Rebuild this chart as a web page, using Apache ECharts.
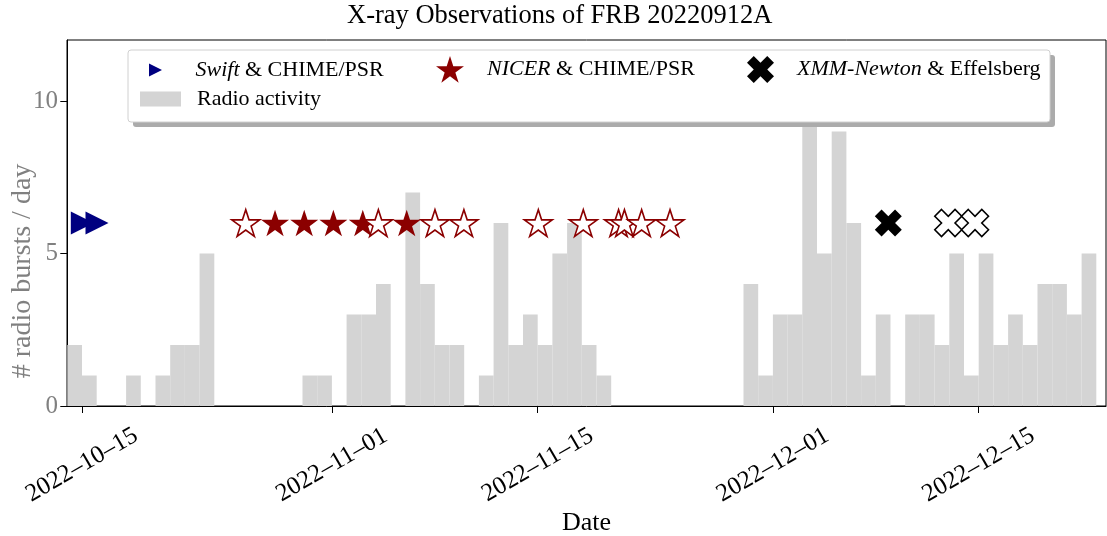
<!DOCTYPE html>
<html><head><meta charset="utf-8">
<script src="https://cdn.jsdelivr.net/npm/echarts@6/dist/echarts.min.js"></script>
<style>html,body{margin:0;padding:0;background:#fff}#c{width:1107px;height:536px}</style>
</head><body><div id="c"></div>
<script>
// ---------------- data ----------------
const days = [
 '2022-10-14','2022-10-15','2022-10-16','2022-10-17','2022-10-18','2022-10-19','2022-10-20','2022-10-21','2022-10-22','2022-10-23',
 '2022-10-24','2022-10-25','2022-10-26','2022-10-27','2022-10-28','2022-10-29','2022-10-30','2022-10-31','2022-11-01','2022-11-02',
 '2022-11-03','2022-11-04','2022-11-05','2022-11-06','2022-11-07','2022-11-08','2022-11-09','2022-11-10','2022-11-11','2022-11-12',
 '2022-11-13','2022-11-14','2022-11-15','2022-11-16','2022-11-17','2022-11-18','2022-11-19','2022-11-20','2022-11-21','2022-11-22',
 '2022-11-23','2022-11-24','2022-11-25','2022-11-26','2022-11-27','2022-11-28','2022-11-29','2022-11-30','2022-12-01','2022-12-02',
 '2022-12-03','2022-12-04','2022-12-05','2022-12-06','2022-12-07','2022-12-08','2022-12-09','2022-12-10','2022-12-11','2022-12-12',
 '2022-12-13','2022-12-14','2022-12-15','2022-12-16','2022-12-17','2022-12-18','2022-12-19','2022-12-20','2022-12-21','2022-12-22'
];
const radioBursts = [
 2,1,0,0,1,0,1,2,2,5,
 0,0,0,0,0,0,1,1,0,3,
 3,4,0,7,4,2,2,0,1,6,
 2,3,2,5,6,2,1,0,0,0,
 0,0,0,0,0,0,4,1,3,3,
 10,5,9,6,1,3,0,3,3,2,
 5,1,5,2,3,2,4,4,3,5
];
const markerLevel = 6;
const swiftTimes = ['2022-10-15T00:30','2022-10-16T00:30'];
const nicerDetected = ['2022-10-28T03:10','2022-10-30T02:50','2022-11-01T02:25','2022-11-03T02:25','2022-11-06T02:10'];
const nicerOther = ['2022-10-26T03:20','2022-11-04T03:50','2022-11-08T00:15','2022-11-09T23:30','2022-11-15T01:00',
                    '2022-11-18T02:25','2022-11-20T12:00','2022-11-20T21:35','2022-11-22T01:40','2022-11-24T00:00'];
const xmmDetected = ['2022-12-08T20:25'];
const xmmOther = ['2022-12-12T22:20','2022-12-14T18:00'];
const tickDates = ['2022-10-15','2022-11-01','2022-11-15','2022-12-01','2022-12-15'];
const yTicks = [0,5,10];

// ---------------- helpers ----------------
const F = '"Liberation Serif", "DejaVu Serif", serif';
const DAY = 86400000;
const T0 = Date.UTC(2022, 9, 14);
function dayNum(s){
  const parts = s.split('T');
  const [y,m,d] = parts[0].split('-').map(Number);
  let v = Date.UTC(y, m-1, d);
  if (parts[1]) { const [h,mi] = parts[1].split(':').map(Number); v += (h*60+mi)*60000; }
  return (v - T0) / DAY;
}
function starPath(){
  let p = '';
  for (let k=0;k<10;k++){
    const a = Math.PI/2 + k*Math.PI/5;
    const r = (k%2===0) ? 1 : 0.381966;
    p += (k===0?'M':'L') + (r*Math.cos(a)).toFixed(4) + ',' + (-r*Math.sin(a)).toFixed(4);
  }
  return 'path://' + p + 'Z';
}
const STAR = starPath();
const TRI = 'path://M-1,-1L1,0L-1,1Z';
const XSYM = 'path://M-1,-2L0,-1L1,-2L2,-1L1,0L2,1L1,2L0,1L-1,2L-2,1L-1,0L-2,-1Z';
const tickDays = tickDates.map(dayNum);
const labelFor = {};
tickDates.forEach(t => { labelFor[dayNum(t)] = t.replace(/-/g, '\u2013'); });
const pts = arr => arr.map(t => [dayNum(t), markerLevel]);

const chart = echarts.init(document.getElementById('c'), null, {renderer:'canvas'});
const legendText = (pad) => ({
  fontFamily: F, fontSize: 22, color: '#000', lineHeight: 26, padding: [0,0,0,pad],
  rich: { i: { fontFamily: F, fontSize: 22, fontStyle: 'italic', color: '#000', lineHeight: 26 } }
});
chart.setOption({
  animation: false,
  backgroundColor: '#fff',
  title: {
    text: 'X-ray Observations of FRB 20220912A', left: 347, top: 3, padding: 0,
    textStyle: { fontFamily: F, fontSize: 26.5, fontWeight: 'normal', color: '#000' }
  },
  grid: { left: 67, right: 1, top: 40, bottom: 130, show: true, borderColor: '#000', borderWidth: 1,
          backgroundColor: 'transparent', containLabel: false, outerBoundsMode: 'none' },
  xAxis: {
    type: 'value', min: -0.02, max: 70.66,
    axisLine: { show: true, onZero: false, lineStyle: { color: '#000', width: 1 } },
    axisTick: { show: true, length: 7, customValues: tickDays, lineStyle: { color: '#000' } },
    axisLabel: {
      customValues: tickDays, rotate: 30, align: 'center', verticalAlign: 'middle', margin: 59,
      fontFamily: F, fontSize: 25, color: '#000',
      formatter: v => labelFor[v] || ''
    },
    splitLine: { show: false },
    name: 'Date', nameLocation: 'middle', nameGap: 104, nameMoveOverlap: false,
    nameTextStyle: { fontFamily: F, fontSize: 26, color: '#000' }
  },
  yAxis: {
    type: 'value', min: 0, max: 12, interval: 5,
    axisLine: { show: true, lineStyle: { color: '#000', width: 1 } },
    axisTick: { show: true, length: 7, customValues: yTicks, lineStyle: { color: '#000' } },
    axisLabel: { customValues: yTicks, color: '#808080', fontFamily: F, fontSize: 25, margin: 9 },
    splitLine: { show: false },
    name: '# radio bursts / day', nameLocation: 'middle', nameGap: 30, nameMoveOverlap: false,
    nameTextStyle: { fontFamily: F, fontSize: 28, color: '#808080', padding: [0, 96, 0, 0] }
  },
  graphic: [
    { type: 'rect', z: 100, shape: { x: 133, y: 55, width: 922, height: 72, r: 3 }, style: { fill: '#ababab' } },
    { type: 'rect', z: 101, shape: { x: 128, y: 50, width: 922, height: 72, r: 3 }, style: { fill: '#fff', stroke: '#d0d0d0', lineWidth: 1 } }
  ],
  legend: [
    { z: 120, selectedMode: false, padding: 0, left: 149, top: 57, itemWidth: 22, itemHeight: 13,
      data: [{ name: 'Swift', icon: TRI }], formatter: () => '{i|Swift} & CHIME/PSR', textStyle: legendText(24) },
    { z: 120, selectedMode: false, padding: 0, left: 436, top: 56, itemWidth: 28, itemHeight: 27,
      data: [{ name: 'NICER', icon: STAR }], formatter: () => '{i|NICER} & CHIME/PSR', textStyle: legendText(18) },
    { z: 120, selectedMode: false, padding: 0, left: 747, top: 56, itemWidth: 27, itemHeight: 27,
      data: [{ name: 'XMM', icon: XSYM }], formatter: () => '{i|XMM-Newton} & Effelsberg', textStyle: legendText(18) },
    { z: 120, selectedMode: false, padding: 0, left: 140, top: 86, itemWidth: 41, itemHeight: 15,
      data: [{ name: 'Radio activity', icon: 'rect' }], formatter: () => 'Radio activity', textStyle: legendText(11) }
  ],
  series: [
    {
      type: 'custom', name: 'Radio activity', z: 1, clip: true,
      itemStyle: { color: '#d4d4d4' },
      data: days.map((d,i) => [dayNum(d), radioBursts[i]]),
      encode: { x: 0, y: 1 },
      renderItem: function(params, api){
        const x0 = api.value(0), v = api.value(1);
        if (!v) return null;
        const p0 = api.coord([x0, v]);
        const p1 = api.coord([x0 + 1, 0]);
        return { type: 'rect', shape: { x: p0[0], y: p0[1], width: p1[0]-p0[0], height: p1[1]-p0[1] },
                 style: { fill: api.visual('color') } };
      }
    },
    { type: 'scatter', name: 'Swift', z: 3, data: pts(swiftTimes), symbol: TRI, symbolSize: 23,
      itemStyle: { color: '#000080', opacity: 1 } },
    { type: 'scatter', name: 'NICER', z: 3, data: pts(nicerDetected), symbol: STAR, symbolSize: 28, symbolKeepAspect: true,
      itemStyle: { color: '#8b0000', opacity: 1 } },
    { type: 'scatter', name: 'NICER-nd', z: 4, data: pts(nicerOther), symbol: STAR, symbolSize: 28, symbolKeepAspect: true,
      itemStyle: { color: '#ffffff', borderColor: '#8b0000', borderWidth: 1.6, opacity: 1 } },
    { type: 'scatter', name: 'XMM', z: 3, data: pts(xmmDetected), symbol: XSYM, symbolSize: 27,
      itemStyle: { color: '#000000', opacity: 1 } },
    { type: 'scatter', name: 'XMM-nd', z: 4, data: pts(xmmOther), symbol: XSYM, symbolSize: 27,
      itemStyle: { color: '#ffffff', borderColor: '#000000', borderWidth: 1.6, opacity: 1 } }
  ]
});
</script>
</body></html>
